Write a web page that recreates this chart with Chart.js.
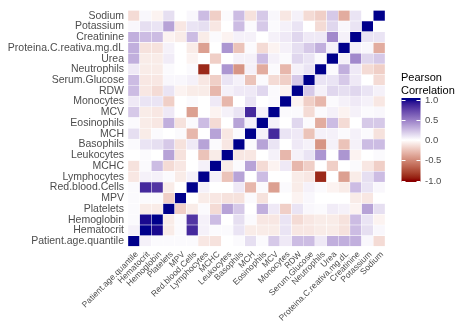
<!DOCTYPE html>
<html><head><meta charset="utf-8">
<script src="https://cdn.jsdelivr.net/npm/chart.js@4/dist/chart.umd.min.js"></script>
<style>html,body{margin:0;padding:0;background:#fff;overflow:hidden}</style>
</head><body>
<canvas id="c" width="474" height="321"></canvas>
<script>
// Variables, in x-axis order (bottom-to-top on the y axis)
const variables = ["Patient.age.quantile","Hematocrit","Hemoglobin","Platelets","MPV","Red.blood.Cells","Lymphocytes","MCHC","Leukocytes","Basophils","MCH","Eosinophils","MCV","Monocytes","RDW","Serum.Glucose","Neutrophils","Urea","Proteina.C.reativa.mg.dL","Creatinine","Potassium","Sodium"];

// Lower-triangle correlations: each variable against the variables listed before it
const corHematocrit   = [0.05];
const corHemoglobin   = [0.02, 0.97];
const corPlatelets    = [0.02, -0.08, -0.08];
const corMPV          = [0.02, 0.02, 0.02, -0.2];
const corRBC          = [0.02, 0.85, 0.8, -0.08, 0.0];
const corLymphocytes  = [-0.1, 0.05, 0.05, 0.02, -0.08, 0.05];
const corMCHC         = [-0.12, 0.02, 0.25, -0.15, -0.1, 0.0, 0.05];
const corLeukocytes   = [0.0, 0.02, 0.0, 0.35, -0.12, 0.0, -0.25, -0.08];
const corBasophils    = [0.02, 0.1, 0.12, 0.2, -0.12, 0.08, 0.35, 0.02, -0.1];
const corMCH          = [0.12, -0.08, 0.02, 0.0, 0.02, -0.3, 0.0, 0.35, -0.1, 0.02];
const corEosinophils  = [0.02, -0.08, -0.1, 0.3, -0.12, 0.02, 0.25, -0.15, 0.0, 0.35, 0.05];
const corMCV          = [0.2, -0.08, -0.1, 0.08, 0.0, -0.4, 0.0, -0.05, 0.05, 0.1, 0.85, 0.05];
const corMonocytes    = [0.08, 0.1, 0.1, -0.2, 0.0, 0.02, 0.0, 0.08, -0.3, 0.0, 0.1, 0.0, 0.02];
const corRDW          = [0.25, -0.1, -0.15, 0.1, -0.05, -0.08, -0.08, -0.3, 0.05, 0.08, 0.08, 0.15, 0.02, -0.05];
const corGlucose      = [0.25, -0.1, -0.1, 0.03, 0.03, 0.05, -0.1, -0.2, 0.1, 0.05, -0.25, 0.02, -0.15, -0.2, 0.2];
const corNeutrophils  = [0.08, -0.08, -0.08, 0.02, 0.0, 0.02, -0.9, 0.0, 0.4, -0.45, 0.05, -0.35, 0.02, -0.3, 0.05, 0.1];
const corUrea         = [0.3, -0.08, -0.08, 0.07, 0.0, -0.05, 0.0, -0.2, 0.0, 0.05, 0.05, 0.25, 0.05, 0.02, 0.15, 0.1, 0.02];
const corPCR          = [0.3, -0.12, -0.12, 0.05, 0.0, -0.08, -0.4, 0.0, 0.4, -0.25, 0.02, -0.15, -0.05, 0.05, 0.12, 0.2, 0.3, 0.05];
const corCreatinine   = [0.3, 0.25, 0.25, -0.05, -0.08, 0.25, -0.08, 0.02, -0.05, 0.05, 0.05, 0.0, 0.05, 0.08, 0.15, 0.08, 0.08, 0.45, 0.05];
const corPotassium    = [0.03, 0.12, 0.1, 0.35, -0.1, 0.1, 0.12, -0.1, 0.0, 0.25, 0.02, 0.2, 0.02, 0.05, 0.1, 0.0, -0.15, 0.15, 0.03, 0.1];
const corSodium       = [-0.15, 0.03, -0.05, 0.12, 0.0, 0.03, 0.25, -0.2, 0.02, 0.25, -0.12, 0.2, 0.03, -0.1, 0.05, -0.15, -0.2, 0.2, -0.35, 0.1, 0.0];

const legendTitle = ["Pearson", "Correlation"];
const legendTicks = [1.0, 0.5, 0.0, -0.5, -1.0];

// ---- build symmetric matrix ----
const lowerRows = [[], corHematocrit, corHemoglobin, corPlatelets, corMPV, corRBC, corLymphocytes, corMCHC,
  corLeukocytes, corBasophils, corMCH, corEosinophils, corMCV, corMonocytes, corRDW, corGlucose,
  corNeutrophils, corUrea, corPCR, corCreatinine, corPotassium, corSodium];
const n = variables.length;
const M = [];
for (let r = 0; r < n; r++) { M.push(new Array(n).fill(0)); M[r][r] = 1; }
for (let r = 0; r < n; r++) lowerRows[r].forEach((v, c) => { M[r][c] = v; M[c][r] = v; });

// ---- Lab colour interpolation (like scale_fill_gradient2, space = "Lab") ----
function hex2rgb(h){ h=h.replace('#',''); return [0,2,4].map(i=>parseInt(h.substr(i,2),16)/255); }
function lin(c){ return c<=0.04045? c/12.92 : Math.pow((c+0.055)/1.055,2.4); }
function delin(c){ return c<=0.0031308? 12.92*c : 1.055*Math.pow(c,1/2.4)-0.055; }
function rgb2lab(rgb){
  const [R,G,B]=rgb.map(lin);
  const X=(0.4124*R+0.3576*G+0.1805*B)/0.95047, Y=(0.2126*R+0.7152*G+0.0722*B), Z=(0.0193*R+0.1192*G+0.9505*B)/1.08883;
  const f=t=>t>0.008856?Math.cbrt(t):7.787*t+16/116;
  const fx=f(X),fy=f(Y),fz=f(Z);
  return [116*fy-16, 500*(fx-fy), 200*(fy-fz)];
}
function lab2rgb(lab){
  const [L,a,b]=lab; const fy=(L+16)/116, fx=fy+a/500, fz=fy-b/200;
  const fi=t=>{const t3=t*t*t; return t3>0.008856?t3:(t-16/116)/7.787;};
  const X=fi(fx)*0.95047, Y=fi(fy), Z=fi(fz)*1.08883;
  const R= 3.2406*X-1.5372*Y-0.4986*Z, G=-0.9689*X+1.8758*Y+0.0415*Z, B=0.0557*X-0.2040*Y+1.0570*Z;
  return [R,G,B].map(c=>Math.round(Math.max(0,Math.min(1,delin(c)))*255));
}
const LOW=rgb2lab(hex2rgb('#8B0000')), MID=rgb2lab(hex2rgb('#FFFFFF')), HIGH=rgb2lab(hex2rgb('#00008B'));
function colorFor(v){
  v=Math.max(-1,Math.min(1,v));
  const a = v<0?LOW:HIGH, t=Math.abs(v);
  const lab=[0,1,2].map(i=>MID[i]+(a[i]-MID[i])*t);
  const [r,g,b]=lab2rgb(lab); return `rgb(${r},${g},${b})`;
}

// ---- datasets: one floating-bar row per y variable ----
const datasets = variables.map((name, r) => ({
  label: name,
  data: variables.map(() => [r, r + 1]),
  backgroundColor: variables.map((_, c) => colorFor(M[r][c])),
  borderColor: '#ffffff',
  borderWidth: 0.5,
  borderSkipped: false,
  barPercentage: 1,
  categoryPercentage: 1
}));

const FONT = '"Liberation Sans", Arial, sans-serif';

const colorbar = {
  id: 'colorbar',
  afterDraw(chart){
    const ctx = chart.ctx;
    ctx.save();
    ctx.fillStyle = '#000';
    ctx.font = `11px ${FONT}`;
    ctx.textAlign = 'left'; ctx.textBaseline = 'alphabetic';
    ctx.fillText(legendTitle[0], 401, 81);
    ctx.fillText(legendTitle[1], 401, 94);
    const x0 = 401.5, w = 19, yTop = 98, yBot = 182;
    const vMax = Math.max(...legendTicks), vMin = Math.min(...legendTicks);
    const yOf = v => 99.5 + (vMax - v) / (vMax - vMin) * (180.5 - 99.5);
    const grad = ctx.createLinearGradient(0, yOf(vMax), 0, yOf(vMin));
    for (let i = 0; i <= 40; i++) { const v = vMax - (vMax - vMin) * i / 40; grad.addColorStop(i / 40, colorFor(v)); }
    ctx.fillStyle = grad;
    ctx.fillRect(x0, yTop, w, yBot - yTop);
    ctx.strokeStyle = '#ffffff'; ctx.lineWidth = 1;
    ctx.font = `9.5px ${FONT}`; ctx.fillStyle = '#4d4d4d'; ctx.textBaseline = 'middle';
    legendTicks.forEach(v => {
      const y = Math.round(yOf(v)) + 0.5;
      ctx.beginPath(); ctx.moveTo(x0, y); ctx.lineTo(x0 + 4, y); ctx.moveTo(x0 + w - 4, y); ctx.lineTo(x0 + w, y); ctx.stroke();
      ctx.fillText(v.toFixed(1), 425, y);
    });
    ctx.restore();
  }
};

new Chart(document.getElementById('c'), {
  type: 'bar',
  data: { labels: variables, datasets },
  plugins: [colorbar],
  options: {
    responsive: false,
    animation: false,
    devicePixelRatio: 1,
    layout: { autoPadding: false, padding: { top: 6.5, right: 89, left: 0, bottom: 0 } },
    datasets: { bar: { grouped: false } },
    plugins: { legend: { display: false }, tooltip: { enabled: false } },
    scales: {
      x: {
        type: 'category',
        grid: { display: false, drawTicks: false },
        border: { display: false },
        ticks: { autoSkip: false, maxRotation: 45, minRotation: 45, padding: 3, labelOffset: 3, color: '#4d4d4d', font: { family: FONT, size: 8.5 } },
        afterFit: s => { s.height = 74.5; }
      },
      y: {
        type: 'linear', min: 0, max: n,
        grid: { display: false, drawTicks: false },
        border: { display: false },
        afterBuildTicks: s => { s.ticks = variables.map((_, i) => ({ value: i + 0.5 })); },
        ticks: { autoSkip: false, padding: 4, color: '#4d4d4d', font: { family: FONT, size: 10.5 },
                 callback: v => variables[Math.round(v - 0.5)] },
        afterFit: s => { s.width = 128; }
      }
    }
  }
});
</script>
</body></html>
